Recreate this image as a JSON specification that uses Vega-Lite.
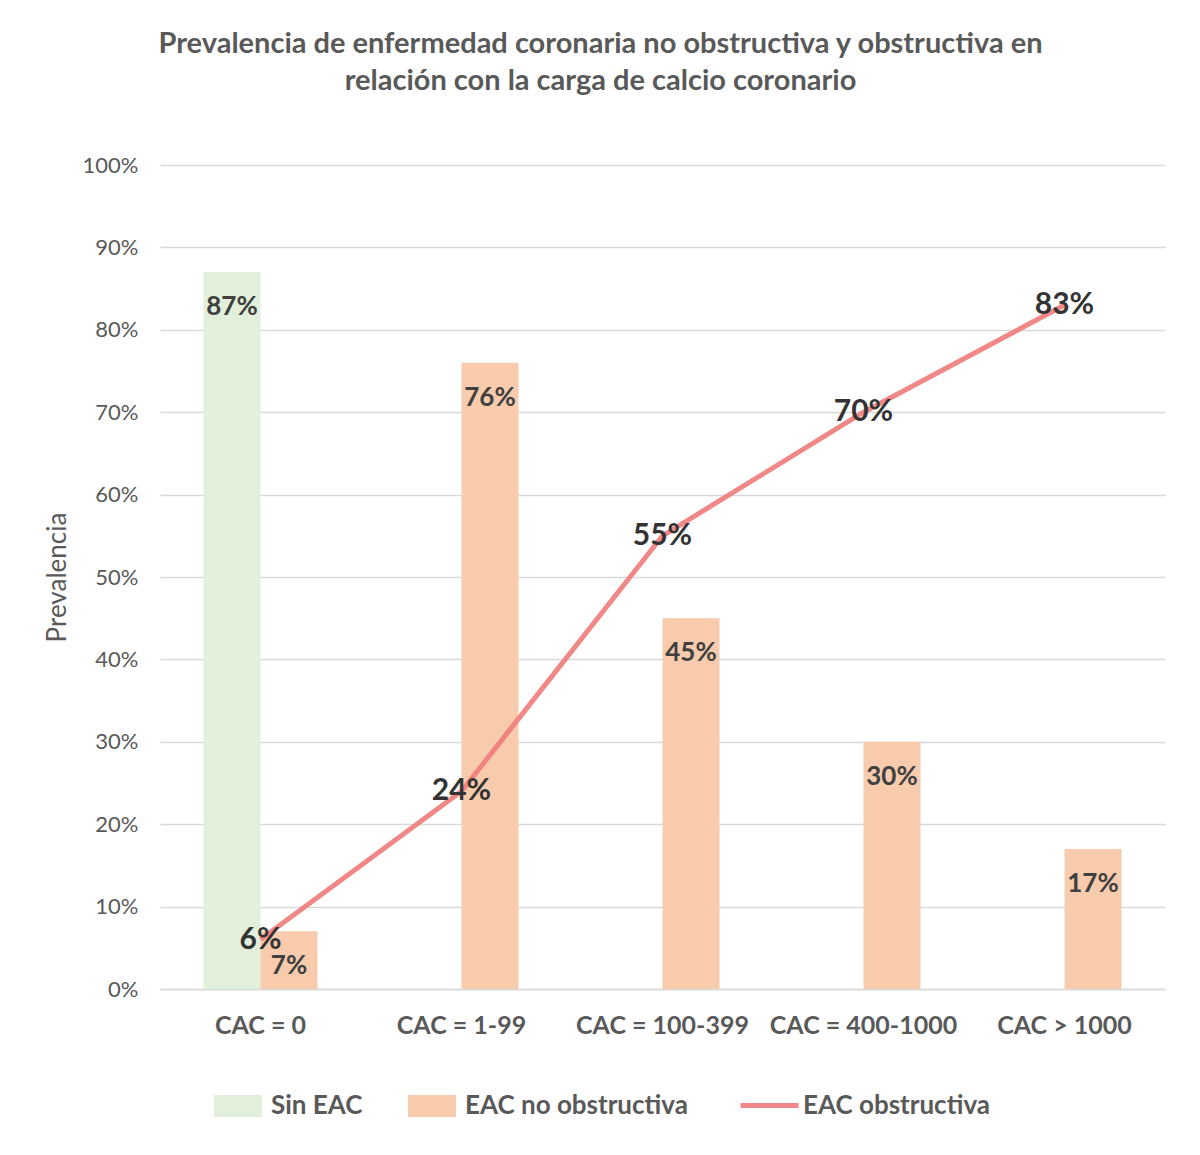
{
  "$schema": "https://vega.github.io/schema/vega-lite/v6.json",
  "width": 1005,
  "height": 824,
  "autosize": {"type": "none"},
  "padding": {"left": 160, "top": 165, "right": 35, "bottom": 166},
  "background": "white",
  "title": {
    "text": ["Prevalencia de enfermedad coronaria no obstructiva y obstructiva en", "relación con la carga de calcio coronario"],
    "fontSize": 29,
    "font": "Lato",
    "fontWeight": "bold",
    "color": "#595959",
    "anchor": "middle",
    "dx": -62,
    "offset": 58,
    "lineHeight": 37
  },
  "datasets": {
    "barras": [
      {"cac": "CAC = 0", "serie": "Sin EAC", "valor": 0.87},
      {"cac": "CAC = 0", "serie": "EAC no obstructiva", "valor": 0.07},
      {"cac": "CAC = 1-99", "serie": "EAC no obstructiva", "valor": 0.76},
      {"cac": "CAC = 100-399", "serie": "EAC no obstructiva", "valor": 0.45},
      {"cac": "CAC = 400-1000", "serie": "EAC no obstructiva", "valor": 0.30},
      {"cac": "CAC > 1000", "serie": "EAC no obstructiva", "valor": 0.17}
    ],
    "linea": [
      {"cac": "CAC = 0", "serie": "EAC obstructiva", "valor": 0.06},
      {"cac": "CAC = 1-99", "serie": "EAC obstructiva", "valor": 0.24},
      {"cac": "CAC = 100-399", "serie": "EAC obstructiva", "valor": 0.55},
      {"cac": "CAC = 400-1000", "serie": "EAC obstructiva", "valor": 0.70},
      {"cac": "CAC > 1000", "serie": "EAC obstructiva", "valor": 0.83}
    ]
  },
  "encoding": {
    "x": {
      "field": "cac",
      "type": "nominal",
      "sort": ["CAC = 0", "CAC = 1-99", "CAC = 100-399", "CAC = 400-1000", "CAC > 1000"],
      "scale": {"paddingInner": 0, "paddingOuter": 0},
      "axis": {
        "title": null,
        "labelAngle": 0,
        "labelFontSize": 25,
        "labelFont": "Lato",
        "labelFontWeight": "bold",
        "labelColor": "#595959",
        "labelPadding": 24,
        "labelLimit": 300,
        "ticks": false,
        "domainColor": "#d9d9d9",
        "domainWidth": 1.5
      }
    },
    "y": {
      "field": "valor",
      "type": "quantitative",
      "scale": {"domain": [0, 1], "nice": false},
      "axis": {
        "title": "Prevalencia",
        "titleFontSize": 26,
        "titleFont": "Lato",
        "titleFontWeight": "normal",
        "titleColor": "#595959",
        "titlePadding": 12,
        "format": ".0%",
        "values": [0, 0.1, 0.2, 0.3, 0.4, 0.5, 0.6, 0.7, 0.8, 0.9, 1],
        "labelFontSize": 22,
        "labelFont": "Lato",
        "labelColor": "#595959",
        "labelPadding": 22,
        "ticks": false,
        "domain": false,
        "gridColor": "#d9d9d9",
        "gridWidth": 1.5
      }
    }
  },
  "layer": [
    {
      "data": {"name": "barras"},
      "mark": {"type": "bar"},
      "encoding": {
        "xOffset": {
          "field": "serie",
          "type": "nominal",
          "scale": {"domain": ["Sin EAC", "EAC no obstructiva"], "paddingInner": 0, "paddingOuter": 0.763}
        },
        "fill": {
          "field": "serie",
          "type": "nominal",
          "scale": {"domain": ["Sin EAC", "EAC no obstructiva"], "range": ["#e2efda", "#f8cbad"]},
          "legend": {
            "title": null,
            "orient": "none",
            "legendX": 49,
            "legendY": 912,
            "direction": "horizontal",
            "symbolType": "M-0.83,-0.38H0.83V0.38H-0.83Z",
            "symbolSize": 3364,
            "symbolStrokeWidth": 0,
            "labelFontSize": 26,
            "labelFont": "Lato",
            "labelFontWeight": "bold",
            "labelColor": "#595959",
            "labelOffset": 4,
            "labelLimit": 400,
            "columnPadding": 40
          }
        }
      }
    },
    {
      "data": {"name": "barras"},
      "mark": {"type": "text", "baseline": "top", "dy": 22, "fontSize": 26, "font": "Lato", "fontWeight": "bold", "color": "#404040"},
      "encoding": {
        "xOffset": {
          "field": "serie",
          "type": "nominal",
          "scale": {"domain": ["Sin EAC", "EAC no obstructiva"], "paddingInner": 0, "paddingOuter": 0.763}
        },
        "text": {"field": "valor", "type": "quantitative", "format": ".0%"}
      }
    },
    {
      "data": {"name": "linea"},
      "mark": {"type": "line", "strokeWidth": 5, "opacity": 0.9},
      "encoding": {
        "stroke": {
          "field": "serie",
          "type": "nominal",
          "scale": {"domain": ["EAC obstructiva"], "range": ["#f07b7b"]},
          "legend": {
            "title": null,
            "orient": "none",
            "legendX": 578,
            "legendY": 909,
            "symbolType": "stroke",
            "symbolSize": 3364,
            "symbolStrokeWidth": 5,
            "labelFontSize": 26,
            "labelFont": "Lato",
            "labelFontWeight": "bold",
            "labelColor": "#595959",
            "labelOffset": 2,
            "labelLimit": 400
          }
        }
      }
    },
    {
      "data": {"name": "linea"},
      "mark": {"type": "text", "baseline": "middle", "fontSize": 30, "font": "Lato", "fontWeight": "bold", "color": "#333333"},
      "encoding": {
        "text": {"field": "valor", "type": "quantitative", "format": ".0%"}
      }
    }
  ],
  "config": {
    "view": {"stroke": null}
  }
}
